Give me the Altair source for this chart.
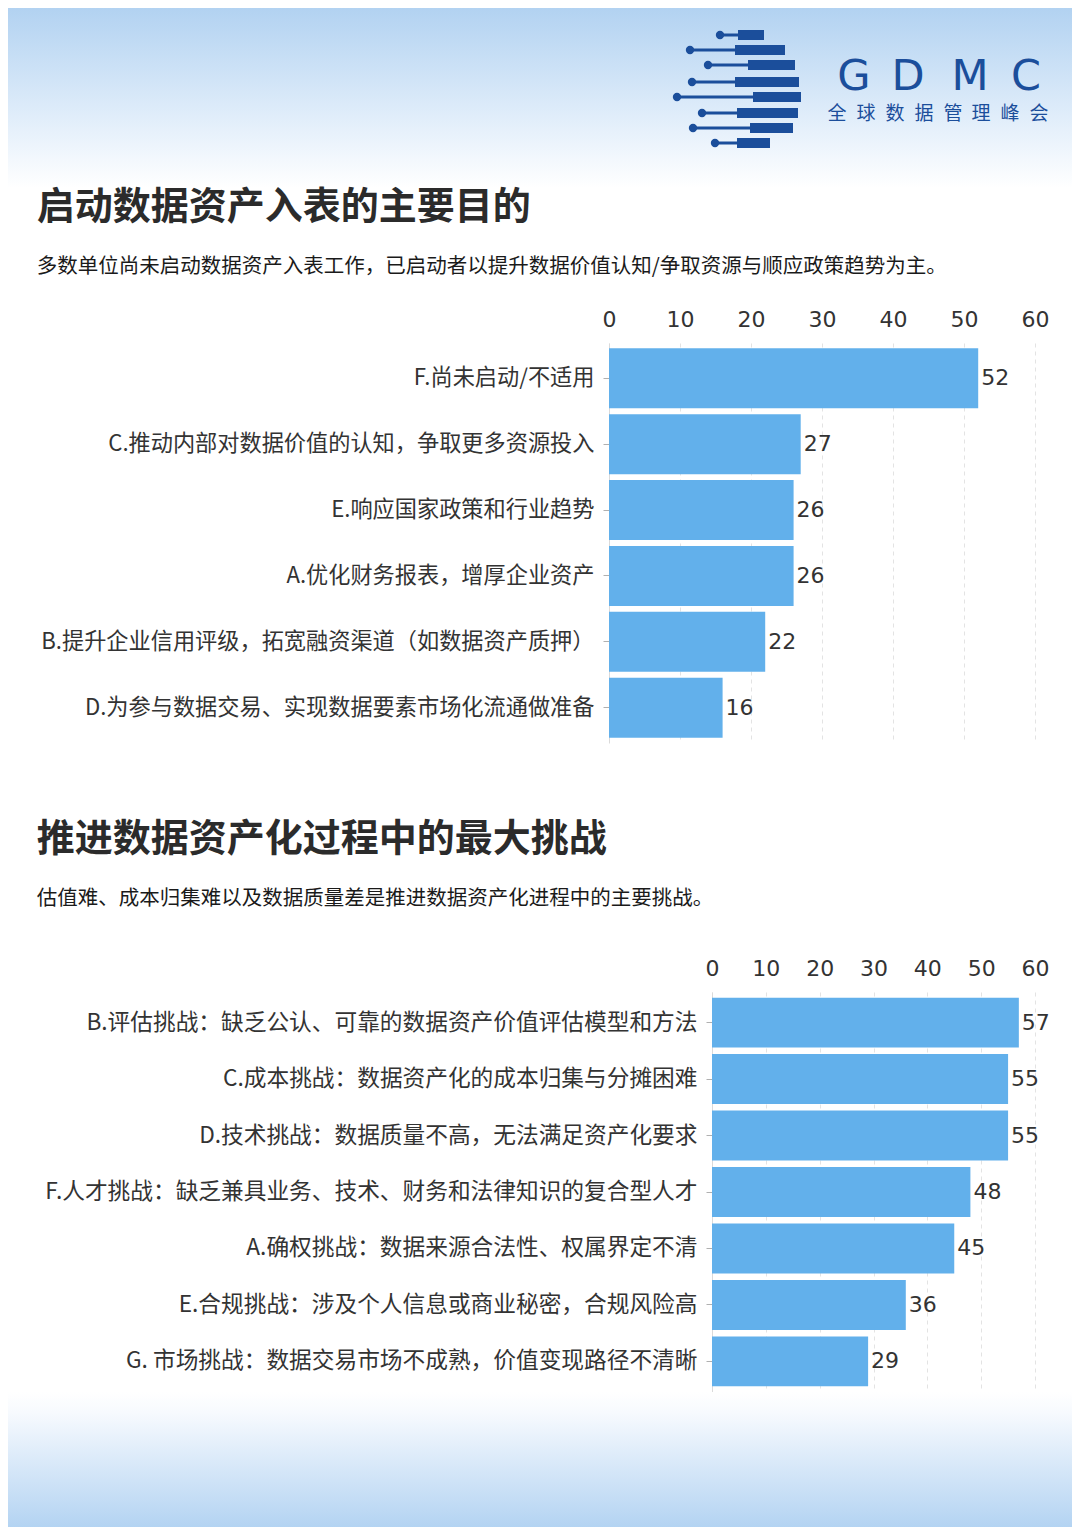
import altair as alt
import pandas as pd

# ---------------- data ----------------
cats1 = [
    "F.尚未启动/不适用",
    "C.推动内部对数据价值的认知，争取更多资源投入",
    "E.响应国家政策和行业趋势",
    "A.优化财务报表，增厚企业资产",
    "B.提升企业信用评级，拓宽融资渠道（如数据资产质押）",
    "D.为参与数据交易、实现数据要素市场化流通做准备",
]
vals1 = [52, 27, 26, 26, 22, 16]

cats2 = [
    "B.评估挑战：缺乏公认、可靠的数据资产价值评估模型和方法",
    "C.成本挑战：数据资产化的成本归集与分摊困难",
    "D.技术挑战：数据质量不高，无法满足资产化要求",
    "F.人才挑战：缺乏兼具业务、技术、财务和法律知识的复合型人才",
    "A.确权挑战：数据来源合法性、权属界定不清",
    "E.合规挑战：涉及个人信息或商业秘密，合规风险高",
    "G. 市场挑战：数据交易市场不成熟，价值变现路径不清晰",
]
vals2 = [57, 55, 55, 48, 45, 36, 29]

tick_values = [0, 10, 20, 30, 40, 50, 60]

title1 = "启动数据资产入表的主要目的"
subtitle1 = "多数单位尚未启动数据资产入表工作，已启动者以提升数据价值认知/争取资源与顺应政策趋势为主。"
title2 = "推进数据资产化过程中的最大挑战"
subtitle2 = "估值难、成本归集难以及数据质量差是推进数据资产化进程中的主要挑战。"

logo_letters = ["G", "D", "M", "C"]
logo_cn = list("全球数据管理峰会")

# ---------------- style ----------------
FONT_CJK = "Noto Sans CJK SC"
FONT_NUM = "DejaVu Sans"
BAR = "#62b0eb"
LOGO = "#1b4e9b"
TXT = "#333333"
FULL_W = 1064


def gradient(stops):
    return alt.LinearGradient(
        gradient="linear",
        stops=[alt.GradientStop(color=c, offset=o) for o, c in stops],
        x1=0, x2=0, y1=0, y2=1,
    )


def one_row():
    return pd.DataFrame({"v": [0]})


def spacer(w, h):
    return (
        alt.Chart(one_row())
        .mark_rect(opacity=0)
        .encode(x=alt.value(0), x2=alt.value(1), y=alt.value(0), y2=alt.value(1))
        .properties(width=w, height=h)
    )


def bar_chart(cats, vals, title, subtitle, width, height, pin, pout, toffset, lsize, tdx):
    df = pd.DataFrame({"cat": cats, "val": vals})
    y = alt.Y(
        "cat:N",
        sort=cats,
        title=None,
        scale=alt.Scale(paddingInner=pin, paddingOuter=pout),
        axis=alt.Axis(
            labelFont=FONT_CJK, labelFontSize=lsize, labelColor=TXT, labelLimit=0,
            labelPadding=9, tickSize=6, tickColor="#b0b0b0", domainColor="#dadada",
            grid=False,
        ),
    )
    x = alt.X(
        "val:Q",
        title=None,
        scale=alt.Scale(domain=[0, 60], nice=False),
        axis=alt.Axis(
            orient="top", values=tick_values, labelFont=FONT_NUM, labelFontSize=22,
            labelColor=TXT, ticks=False, domain=False, grid=True, gridDash=[4, 4],
            gridColor="#e3e3e3", labelPadding=12, labelFlush=False,
        ),
    )
    bars = alt.Chart(df).mark_bar(color=BAR).encode(x=x, y=y)
    labels = (
        alt.Chart(df)
        .mark_text(align="left", baseline="middle", dx=3, font=FONT_NUM, fontSize=22, color=TXT)
        .encode(x="val:Q", y=alt.Y("cat:N", sort=cats), text="val:Q")
    )
    return alt.layer(bars, labels).properties(
        width=width,
        height=height,
        title=alt.TitleParams(
            text=title, subtitle=subtitle, anchor="start", font=FONT_CJK, fontSize=38,
            fontWeight="bold", color="#2b2b2b", subtitleFont=FONT_CJK,
            subtitleFontSize=20.5, subtitleColor="#1a1a1a", subtitlePadding=30,
            offset=toffset, dx=tdx,
        ),
    )


# ---------------- header (logo) ----------------
HEADER_H = 180
stripes = pd.DataFrame({
    "y": [27, 42, 57, 74, 89, 105, 120, 135],
    "dot": [712, 682, 700, 684, 669, 694, 685, 707],
    "b0": [730, 727, 740, 727, 745, 729, 742, 729],
    "b1": [756, 777, 787, 791, 793, 790, 785, 762],
})
letters = pd.DataFrame({"ch": logo_letters, "x": [846, 900, 962, 1018]})
cn = pd.DataFrame({"ch": logo_cn, "x": [829, 858, 887, 916, 945, 973, 1002, 1031]})

hdr_bg = (
    alt.Chart(one_row())
    .mark_rect(fill=gradient([(0, "#b2d2f1"), (0.6, "#e0edfa"), (1, "#ffffff")]))
    .encode(x=alt.value(0), x2=alt.value(FULL_W), y=alt.value(0), y2=alt.value(HEADER_H))
)
px = lambda f: alt.X(f, scale=None, axis=None)
py = lambda f: alt.Y(f, scale=None, axis=None)
thin = alt.Chart(stripes).mark_rule(strokeWidth=3, color=LOGO).encode(x=px("dot:Q"), x2="b0:Q", y=py("y:Q"))
thick = alt.Chart(stripes).mark_rule(strokeWidth=10, color=LOGO).encode(x=px("b0:Q"), x2="b1:Q", y=py("y:Q"))
dots = alt.Chart(stripes).mark_circle(size=70, opacity=1, color=LOGO).encode(x=px("dot:Q"), y=py("y:Q"))
let_txt = (
    alt.Chart(letters)
    .mark_text(font=FONT_NUM, fontSize=43, fontWeight="normal", color=LOGO, baseline="middle")
    .encode(x=px("x:Q"), y=alt.value(69), text="ch:N")
)
cn_txt = (
    alt.Chart(cn)
    .mark_text(font=FONT_CJK, fontSize=19, color=LOGO, baseline="middle")
    .encode(x=px("x:Q"), y=alt.value(106), text="ch:N")
)
header = alt.layer(hdr_bg, thin, thick, dots, let_txt, cn_txt).properties(width=FULL_W, height=HEADER_H)

# ---------------- footer ----------------
FOOT_H = 136
footer = (
    alt.Chart(one_row())
    .mark_rect(fill=gradient([(0, "#ffffff"), (0.15, "#f7fafe"), (1, "#b3d3f2")]))
    .encode(x=alt.value(0), x2=alt.value(FULL_W), y=alt.value(0), y2=alt.value(FOOT_H))
    .properties(width=FULL_W, height=FOOT_H)
)

c1 = bar_chart(cats1, vals1, title1, subtitle1, 426, 400, 0.09, 0.08, 31, 22.2, -4)
c2 = bar_chart(cats2, vals2, title2, subtitle2, 323, 400, 0.115, 0.1, 48, 22.7, -8)

row1 = alt.hconcat(spacer(28, 2), c1, spacing=0)
row2 = alt.hconcat(spacer(28, 2), c2, spacing=0)

chart = (
    alt.vconcat(header, row1, spacer(FULL_W, 77), row2, footer, spacing=0)
    .properties(padding=0, background="#ffffff")
    .configure_view(strokeWidth=0)
)

chart.save("out.html", embed_options={"renderer": "svg", "actions": False})
